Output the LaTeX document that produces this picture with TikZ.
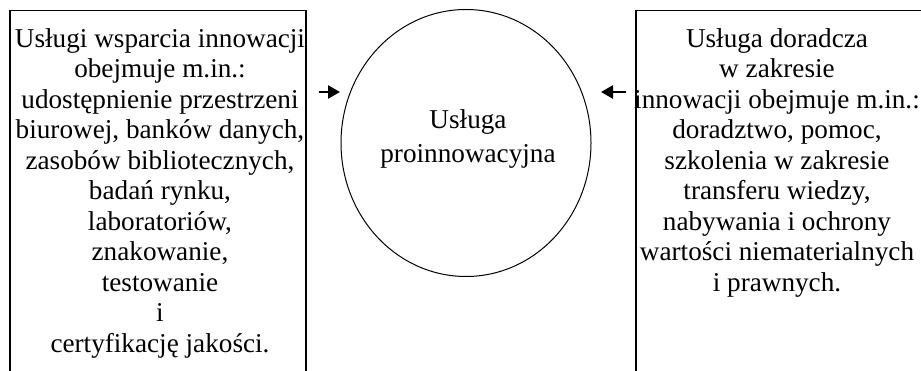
\documentclass[tikz,border=0pt]{standalone}
\usepackage{fontspec}
\setmainfont{Liberation Serif}
\usetikzlibrary{arrows.meta,shapes.geometric}
\begin{document}
\begin{tikzpicture}[x=1pt,y=-1pt,
  frame/.style={draw, line width=1.5pt, inner sep=0pt},
  txt/.style={align=center, inner sep=0pt, anchor=north},
  boxfont/.style={font=\fontsize{27.2pt}{30.5pt}\selectfont},
  circfont/.style={font=\fontsize{27.2pt}{34pt}\selectfont},
  arr/.style={line width=2.4pt, -{Triangle[length=12pt,width=13pt]}}]
\useasboundingbox (0,0) rectangle (921,371);
\clip (0,0) rectangle (921,371);
\node[frame, minimum width=296pt, minimum height=420pt, anchor=north west] (lbox) at (9,10) {};
\node[frame, minimum width=320pt, minimum height=420pt, anchor=north west] (rbox) at (635,10) {};
\node[draw, ellipse, line width=1pt, minimum width=250pt, minimum height=267pt, inner sep=0pt] (circ) at (466,143) {};
\node[txt, boxfont] (ltext) at (160,28.4) {Usługi wsparcia innowacji\\obejmuje m.in.:\\udostępnienie przestrzeni\\biurowej, banków danych,\\zasobów bibliotecznych,\\badań rynku,\\laboratoriów,\\znakowanie,\\testowanie\\i\\certyfikację jakości.};
\node[txt, boxfont] (rtext) at (777,28.4) {Usługa doradcza\\w zakresie\\innowacji obejmuje m.in.:\\doradztwo, pomoc,\\szkolenia w zakresie\\transferu wiedzy,\\nabywania i ochrony\\wartości niematerialnych\\i prawnych.};
\node[txt, circfont] (ctext) at (468,109.4) {Usługa\\proinnowacyjna};
\coordinate (la1) at (319,92);
\coordinate (la2) at (340,92);
\coordinate (ra1) at (626,92);
\coordinate (ra2) at (601,92);
\draw[arr] (la1) -- (la2);
\draw[arr] (ra1) -- (ra2);
\end{tikzpicture}
\end{document}
